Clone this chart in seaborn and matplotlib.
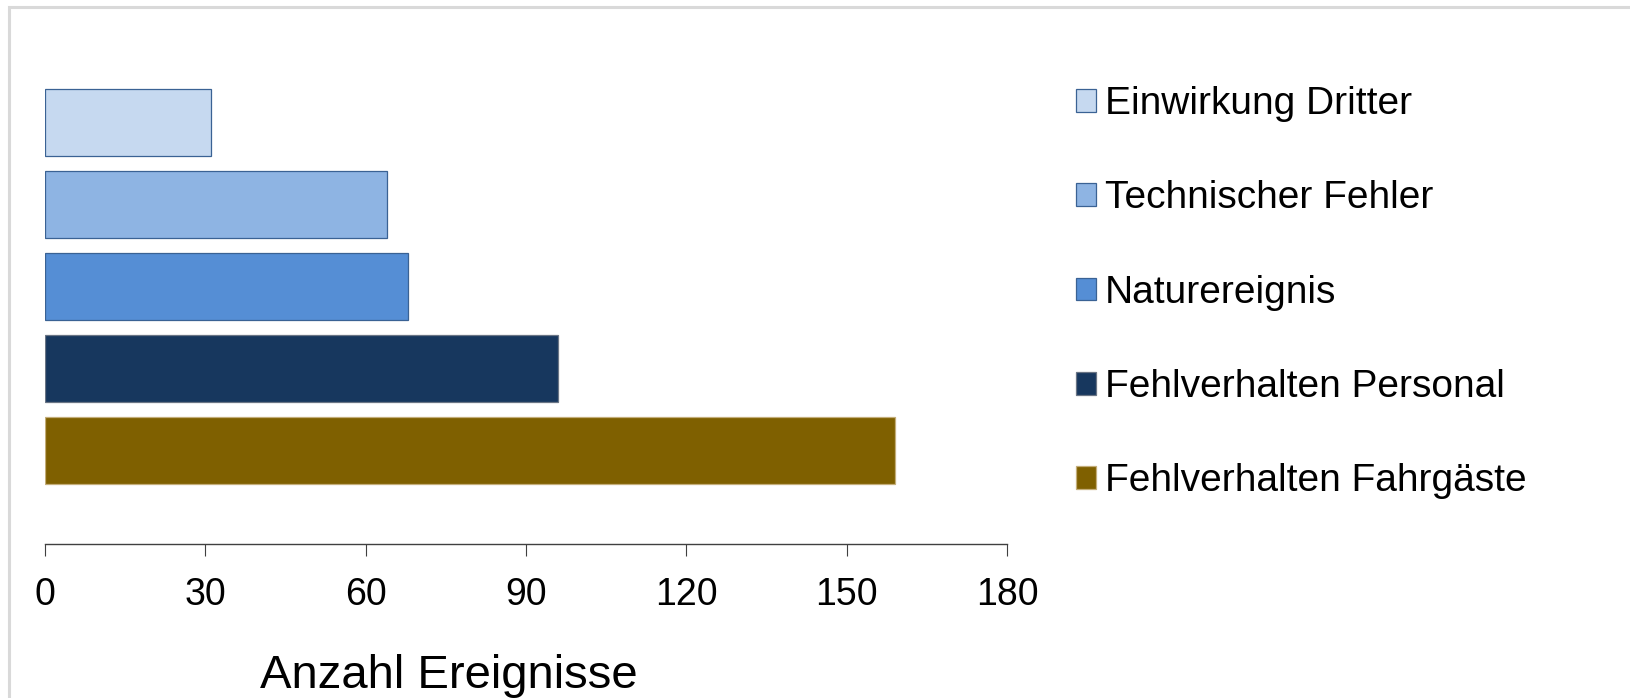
import matplotlib.pyplot as plt
import matplotlib.patches as mpatches
import pandas as pd
import seaborn as sns

categories = [
    "Einwirkung Dritter",
    "Technischer Fehler",
    "Naturereignis",
    "Fehlverhalten Personal",
    "Fehlverhalten Fahrgäste",
]
counts = [31, 64, 68, 96, 159]
bar_colors = ["#C6D9F0", "#8EB4E3", "#558ED5", "#17375E", "#7F6000"]
edge_colors = ["#3A6294", "#3A6294", "#3A6294", "#6A7585", "#C4AE7A"]
x_ticks = [0, 30, 60, 90, 120, 150, 180]
x_label = "Anzahl Ereignisse"

if __name__ == "__main__":
    sns.set_style("white")
    plt.rcParams["font.family"] = ["Liberation Sans", "DejaVu Sans"]
    plt.rcParams["text.color"] = "black"
    plt.rcParams["axes.labelcolor"] = "black"
    plt.rcParams["xtick.color"] = "black"

    df = pd.DataFrame({"Kategorie": categories, "Anzahl": counts})

    fig = plt.figure(figsize=(16.3, 6.98), dpi=100)
    ax = fig.add_axes([45 / 1630, (698 - 544) / 698, 962 / 1630, (544 - 29) / 698])

    sns.barplot(
        df, x="Anzahl", y="Kategorie", hue="Kategorie", palette=bar_colors,
        order=categories, hue_order=categories, width=0.82, dodge=False,
        legend=False, orient="h", ax=ax, saturation=1,
    )
    bars = [c.patches[0] for c in ax.containers]
    for bar, ec in zip(bars, edge_colors):
        bar.set_edgecolor(ec)
        bar.set_linewidth(0.9)

    ax.set_xlim(0, 180)
    ax.set_ylim(4 + 1.146, -1.146)
    ax.set_xticks(x_ticks)
    ax.set_xticklabels([str(t) for t in x_ticks])
    ax.set_yticks([])
    ax.set_ylabel("")
    ax.tick_params(axis="x", direction="out", length=8.6, width=0.8,
                   color="#404040", labelcolor="black", labelsize=27,
                   pad=15.5, bottom=True)
    for side in ["top", "right", "left"]:
        ax.spines[side].set_visible(False)
    ax.spines["bottom"].set_color("#404040")
    ax.spines["bottom"].set_linewidth(1.0)

    ax.set_xlabel(x_label, fontsize=34, va="baseline", color="black")
    ax.xaxis.set_label_coords(0.42, -(688 - 544) / 515)

    fig.legend(
        bars, categories, loc="upper left",
        bbox_to_anchor=(1076 / 1630, 1 - 86 / 698),
        frameon=False, fontsize=28, borderpad=0, borderaxespad=0,
        handlelength=0.52, handleheight=0.52, handletextpad=0.22,
        labelspacing=1.5,
    )

    fig.patches.append(mpatches.Rectangle(
        (9 / 1630, -0.2), 1.5, 1.2 - 7 / 698, transform=fig.transFigure,
        facecolor="none", edgecolor="#D9D9D9", linewidth=2.2, figure=fig,
    ))

    plt.savefig("out.png", dpi=100)
